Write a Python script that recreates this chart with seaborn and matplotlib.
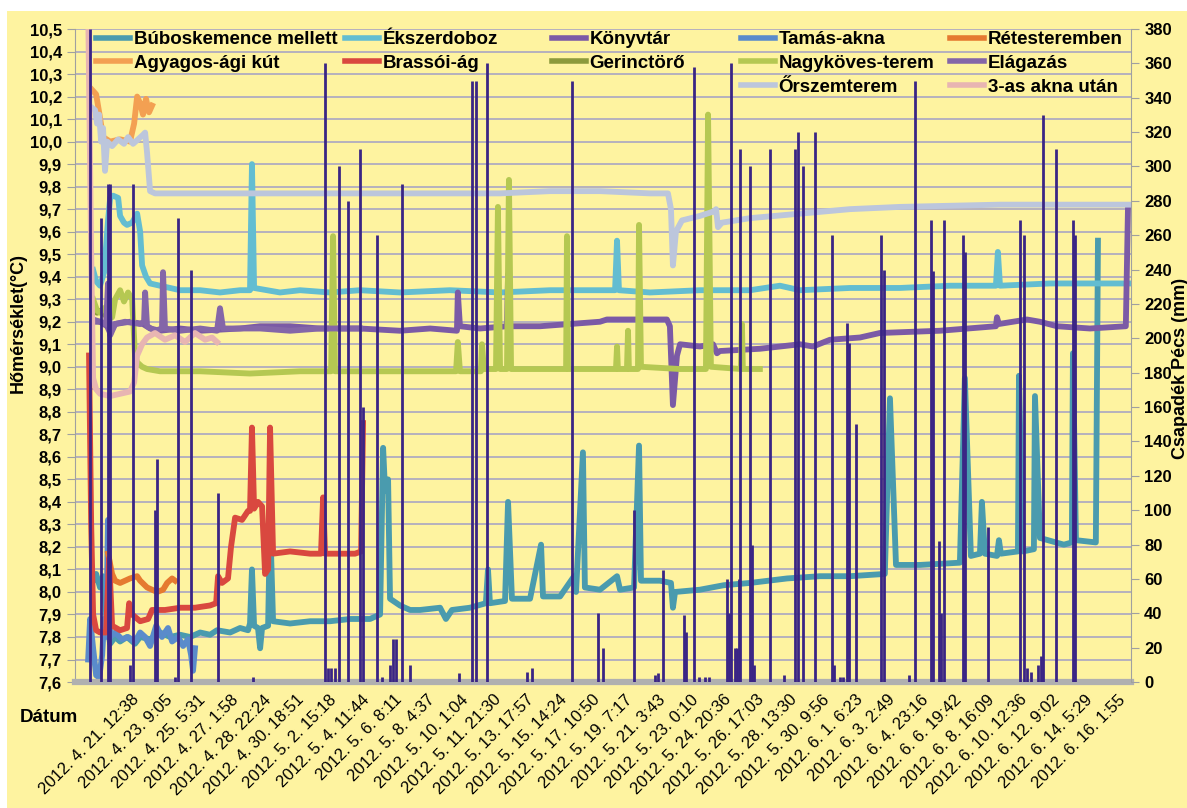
import numpy as np
import pandas as pd
import matplotlib
matplotlib.use("Agg")
import matplotlib.pyplot as plt
import seaborn as sns
from matplotlib.lines import Line2D
from matplotlib.patches import Rectangle
from matplotlib.ticker import MultipleLocator, FuncFormatter

# x values: days since 2012-04-18 00:00
ORIGIN = pd.Timestamp("2012-04-18 00:00")

datum_cimkek = [
    "2012. 4. 21. 12:38", "2012. 4. 23. 9:05", "2012. 4. 25. 5:31", "2012. 4. 27. 1:58",
    "2012. 4. 28. 22:24", "2012. 4. 30. 18:51", "2012. 5. 2. 15:18", "2012. 5. 4. 11:44",
    "2012. 5. 6. 8:11", "2012. 5. 8. 4:37", "2012. 5. 10. 1:04", "2012. 5. 11. 21:30",
    "2012. 5. 13. 17:57", "2012. 5. 15. 14:24", "2012. 5. 17. 10:50", "2012. 5. 19. 7:17",
    "2012. 5. 21. 3:43", "2012. 5. 23. 0:10", "2012. 5. 24. 20:36", "2012. 5. 26. 17:03",
    "2012. 5. 28. 13:30", "2012. 5. 30. 9:56", "2012. 6. 1. 6:23", "2012. 6. 3. 2:49",
    "2012. 6. 4. 23:16", "2012. 6. 6. 19:42", "2012. 6. 8. 16:09", "2012. 6. 10. 12:36",
    "2012. 6. 12. 9:02", "2012. 6. 14. 5:29", "2012. 6. 16. 1:55",
]

# --- temperature series (°C) ---
bubos_nap = [1.05, 1.22, 1.44, 1.61, 1.84, 2.01, 2.29, 2.57, 2.96, 3.41, 3.70, 4.26, 4.82, 5.39,
             5.95, 6.51, 7.08, 7.64, 8.03, 8.77, 9.33, 9.78, 9.89, 10.00, 10.12, 10.34, 10.46,
             10.57, 10.91, 11.02, 11.19, 12.15, 13.28, 14.40, 15.53, 16.65, 17.22, 17.39, 17.50,
             17.67, 17.78, 18.34, 18.91, 19.47, 20.60, 20.93, 21.27, 22.28, 23.18, 23.30, 23.41,
             24.26, 24.43, 24.65, 25.67, 26.29, 26.40, 27.36, 28.15, 28.26, 28.65, 28.76, 29.61,
             30.57, 30.74, 31.53, 31.81, 31.92, 32.99, 33.61, 33.72, 33.84, 35.24, 36.59, 38.06,
             40.15, 42.01, 43.69, 45.66, 45.95, 46.29, 47.64, 49.89, 50.17, 50.51, 51.02, 51.13,
             51.30, 51.98, 52.09, 52.20, 53.16, 53.22, 53.44, 54.06, 54.12, 54.40, 55.75, 56.20,
             56.26, 56.43, 57.55, 57.67]
bubos_t = [8.05, 8.08, 8.02, 8.07, 7.85, 7.77, 7.80, 7.78, 7.80, 7.77, 7.80, 7.79, 7.82, 7.80,
           7.81, 7.80, 7.82, 7.81, 7.83, 7.82, 7.84, 7.83, 7.86, 8.10, 7.85, 7.84, 7.75,
           7.84, 7.85, 8.32, 7.87, 7.86, 7.87, 7.87, 7.88, 7.88, 7.90, 8.64, 8.45,
           8.50, 7.97, 7.94, 7.92, 7.92, 7.93, 7.88, 7.92, 7.93, 7.95, 8.10, 7.95,
           7.96, 8.40, 7.97, 7.97, 8.21, 7.98, 7.98, 8.07, 8.00, 8.62, 8.02, 8.01,
           8.07, 8.01, 8.02, 8.65, 8.05, 8.05, 8.04, 7.93, 8.00, 8.01, 8.03, 8.04,
           8.06, 8.07, 8.07, 8.08, 8.86, 8.12, 8.12, 8.13, 8.95, 8.16, 8.17, 8.40,
           8.17, 8.16, 8.23, 8.17, 8.18, 8.96, 8.18, 8.19, 8.87, 8.24, 8.21, 8.22,
           9.06, 8.23, 8.22, 9.56]

ekszer_nap = [1.05, 1.22, 1.44, 1.67, 1.89, 2.01, 2.17, 2.46, 2.57, 2.79, 2.96, 3.25, 3.53, 3.70,
              3.81, 4.03, 4.26, 4.82, 5.95, 7.08, 8.20, 9.33, 9.89, 10.00, 10.12, 11.58, 12.71,
              14.40, 16.09, 18.34, 21.15, 23.98, 26.80, 29.61, 30.46, 30.57, 30.68, 32.43, 35.24,
              38.06, 39.75, 40.88, 43.69, 46.51, 49.33, 51.92, 52.03, 52.15, 54.96, 57.78, 59.47]
ekszer_t = [9.43, 9.38, 9.36, 9.42, 9.65, 9.75, 9.76, 9.75, 9.67, 9.64, 9.63, 9.64, 9.68, 9.60,
            9.45, 9.40, 9.37, 9.36, 9.34, 9.34, 9.33, 9.34, 9.34, 9.90, 9.35, 9.33, 9.34,
            9.33, 9.34, 9.33, 9.34, 9.33, 9.34, 9.34, 9.34, 9.56, 9.34, 9.33, 9.34,
            9.34, 9.36, 9.34, 9.35, 9.35, 9.36, 9.36, 9.51, 9.36, 9.37, 9.37, 9.37]

konyvtar_nap = [1.05, 1.44, 1.84, 2.01, 2.29, 3.13, 3.86, 4.26, 4.82, 5.95, 7.08, 9.33, 10.46, 12.15,
                13.84, 16.09, 18.34, 20.04, 21.55, 21.60, 21.72, 22.85, 24.37, 24.43, 24.48, 26.23,
                27.92, 29.61, 30.00, 31.86, 33.38, 33.55, 33.72, 33.95, 34.12, 35.24, 35.98, 36.20,
                36.37, 38.62, 40.88, 41.61, 42.57, 44.26, 45.38, 48.76, 51.92, 51.98, 52.09, 53.67,
                54.40, 55.36, 57.22, 59.24, 59.36]
konyvtar_t = [9.20, 9.20, 9.18, 9.15, 9.19, 9.20, 9.19, 9.17, 9.16, 9.17, 9.16, 9.17, 9.18, 9.18,
              9.17, 9.17, 9.16, 9.17, 9.16, 9.33, 9.18, 9.17, 9.18, 9.41, 9.18, 9.18,
              9.19, 9.20, 9.21, 9.21, 9.21, 9.18, 8.83, 9.05, 9.10, 9.09, 9.10, 9.06,
              9.07, 9.08, 9.10, 9.09, 9.12, 9.13, 9.15, 9.16, 9.18, 9.22, 9.19, 9.21,
              9.20, 9.18, 9.17, 9.18, 9.70]

tamas_nap = [0.77, 0.88, 1.05, 1.22, 1.39, 1.56, 1.67, 1.78, 1.89, 2.01, 2.29, 2.68, 3.02, 3.41,
             3.70, 3.98, 4.26, 4.60, 4.93, 5.27, 5.50, 5.84, 6.12, 6.40, 6.57, 6.68, 6.79]
tamas_t = [7.70, 7.88, 7.75, 7.63, 7.62, 7.72, 7.88, 7.80, 8.32, 7.80, 7.82, 7.79, 7.80, 7.78,
           7.82, 7.80, 7.76, 7.85, 7.80, 7.84, 7.78, 7.80, 7.76, 7.79, 7.72, 7.65, 7.75]

retes_nap = [1.89, 2.12, 2.29, 2.57, 3.13, 3.53, 3.70, 4.09, 4.37, 4.65, 4.99, 5.22, 5.50, 5.67]
retes_t = [8.17, 8.08, 8.05, 8.04, 8.06, 8.07, 8.05, 8.02, 8.01, 8.00, 8.01, 8.04, 8.06, 8.05]

agyagos_nap = [0.99, 1.22, 1.39, 1.61, 2.01, 2.57, 3.13, 3.36, 3.53, 3.70, 3.86, 4.03, 4.20, 4.37]
agyagos_t = [10.23, 10.21, 10.13, 10.02, 10.00, 10.01, 10.00, 10.08, 10.20, 10.17, 10.12, 10.19,
             10.13, 10.16]

brassoi_nap = [0.82, 0.94, 1.05, 1.22, 1.44, 1.78, 1.95, 2.12, 2.57, 2.96, 3.08, 3.25, 3.70, 4.15,
               4.37, 5.10, 5.95, 6.79, 7.64, 7.98, 8.09, 8.31, 8.65, 8.82, 9.05, 9.44, 9.78, 9.89,
               10.00, 10.12, 10.34, 10.57, 10.74, 10.91, 11.02, 11.19, 12.15, 13.28, 13.89, 14.01,
               14.12, 14.97, 15.81, 16.15, 16.26]
brassoi_t = [9.05, 8.30, 7.90, 7.83, 7.82, 7.82, 8.15, 7.85, 7.83, 7.84, 7.95, 7.90, 7.87, 7.88,
             7.92, 7.92, 7.93, 7.93, 7.94, 7.95, 8.07, 8.04, 8.06, 8.20, 8.33, 8.32, 8.36, 8.36,
             8.73, 8.37, 8.40, 8.38, 8.08, 8.10, 8.73, 8.17, 8.18, 8.17, 8.17, 8.42,
             8.17, 8.17, 8.17, 8.18, 8.75]

gerinc_nap = [1.05, 1.27, 1.50, 1.72, 2.01]
gerinc_t = [9.26, 9.24, 9.25, 9.23, 9.24]

nagykoves_nap = [1.05, 1.27, 1.44, 1.67, 1.89, 2.12, 2.29, 2.57, 2.79, 3.02, 3.25, 3.41, 3.53, 3.81,
                 4.09, 4.82, 7.08, 9.89, 12.71, 14.46, 14.57, 14.68, 16.65, 18.34, 21.50, 21.60,
                 21.72, 22.90, 22.96, 23.07, 23.75, 23.86, 23.98, 24.37, 24.48, 24.60, 26.23, 27.70,
                 27.75, 27.81, 30.51, 30.57, 30.62, 31.13, 31.19, 31.24, 31.75, 31.81, 31.92, 34.12,
                 35.58, 35.70, 35.86, 37.55, 37.61, 37.66, 38.62]
nagykoves_t = [9.30, 9.25, 9.24, 9.26, 9.27, 9.22, 9.30, 9.34, 9.29, 9.33, 9.30, 9.05, 9.02, 9.00,
               8.99, 8.98, 8.98, 8.97, 8.98, 8.98, 9.58, 8.98, 8.98, 8.98, 8.98, 9.11,
               8.98, 8.98, 9.10, 8.99, 8.99, 9.71, 8.99, 8.99, 9.83, 8.99, 8.99, 8.99,
               9.58, 8.99, 8.99, 9.09, 8.99, 8.99, 9.16, 8.99, 8.99, 9.63, 9.00, 8.99,
               8.99, 10.12, 9.00, 8.99, 9.19, 8.99, 8.99]

elagazas_nap = [1.05, 1.44, 1.78, 1.89, 2.01, 2.29, 2.85, 3.70, 3.92, 3.98, 4.09, 4.54, 4.93, 4.99,
                5.10, 5.95, 7.08, 8.03, 8.20, 8.37, 9.33, 10.46, 12.15, 13.84, 16.09]
elagazas_t = [9.21, 9.20, 9.19, 9.37, 9.14, 9.19, 9.20, 9.19, 9.20, 9.33, 9.18, 9.16, 9.17, 9.42,
              9.17, 9.16, 9.17, 9.16, 9.26, 9.17, 9.17, 9.17, 9.16, 9.17, 9.17]

orszem_nap = [0.99, 1.16, 1.27, 1.39, 1.50, 1.61, 1.72, 1.84, 2.12, 2.46, 2.79, 3.02, 3.30, 3.58,
              3.86, 3.98, 4.09, 4.26, 4.54, 7.08, 12.71, 18.34, 21.15, 23.98, 26.80, 29.61, 32.43,
              33.44, 33.61, 33.72, 33.89, 34.23, 35.24, 36.03, 36.15, 36.26, 36.48, 38.06, 40.88,
              43.69, 46.51, 52.15, 59.47]
orszem_t = [10.15, 10.14, 10.08, 10.12, 10.00, 10.06, 9.87, 10.00, 9.98, 10.01, 9.99, 10.02, 9.99,
            10.01, 10.03, 10.04, 9.95, 9.78, 9.77, 9.77, 9.77, 9.77, 9.77, 9.77, 9.78, 9.78, 9.77,
            9.77, 9.70, 9.45, 9.60, 9.65, 9.67, 9.69, 9.70, 9.62, 9.64, 9.66, 9.68,
            9.70, 9.71, 9.72, 9.72]

akna3_nap = [0.77, 0.94, 1.05, 1.22, 1.44, 2.01, 2.57, 3.13, 3.36, 3.53, 3.81, 4.09, 4.54, 5.10,
             5.67, 6.23, 6.79, 7.36, 7.75, 8.03]
akna3_t = [10.60, 9.50, 8.95, 8.90, 8.88, 8.87, 8.88, 8.89, 8.93, 9.05, 9.10, 9.13, 9.15, 9.12,
           9.14, 9.11, 9.15, 9.12, 9.13, 9.11]

# --- precipitation (mm) ---
csapadek_nap = [0.88, 1.50, 1.89, 2.01, 3.13, 3.30, 4.54, 4.65, 5.67, 5.84, 6.57, 8.09, 10.06,
                14.12, 14.29, 14.46, 14.68, 14.91, 15.41, 16.09, 16.26, 17.05, 17.33, 17.78, 17.95,
                18.12, 18.46, 18.91, 21.66, 22.40, 22.63, 23.25, 25.50, 25.78, 28.04, 29.50, 29.78,
                31.53, 32.71, 32.88, 33.16, 34.34, 34.45,
                34.90, 35.18, 35.52, 35.75, 36.76, 36.88, 36.99, 37.21, 37.33, 37.44, 37.50, 38.06,
                38.17, 38.28, 39.18, 39.97, 40.59, 40.76, 41.04, 41.72, 42.68, 42.79, 43.13, 43.30,
                43.53, 43.64, 44.03, 45.44, 45.61, 47.02, 47.36, 48.26, 48.37, 48.71, 48.82, 48.99,
                50.06, 50.17, 51.47, 53.27, 53.50, 53.67, 53.89, 54.28, 54.45, 54.56, 55.30, 56.26,
                56.37]
csapadek_mm = [380, 270, 290, 290, 10, 290, 100, 130, 3, 270, 240, 110, 3,
               360, 8, 8, 8, 300, 280, 310, 160, 260, 3, 10, 25,
               25, 290, 10, 5, 350, 350, 360, 6, 8, 350, 40, 20,
               100, 4, 5, 65, 39, 29,
               358, 3, 3, 3, 60, 40, 360, 20, 20, 60, 310, 300,
               80, 10, 310, 4, 310, 320, 300, 320, 260, 10, 3, 3,
               209, 197, 150, 260, 240, 4, 350, 269, 239, 82, 40, 269,
               260, 250, 90, 269, 260, 8, 6, 10, 15, 330, 310, 269,
               260]

nevek = ["Búboskemence mellett", "Ékszerdoboz", "Könyvtár", "Tamás-akna", "Rétesteremben",
         "Agyagos-ági kút", "Brassói-ág", "Gerinctörő", "Nagyköves-terem", "Elágazás",
         "Őrszemterem", "3-as akna után"]
szinek = ["#4A9BAE", "#63BDD1", "#7B5AA6", "#5A8BCB", "#E57A30", "#F3A052", "#D9483F",
          "#8C9A3C", "#B5C852", "#8466A8", "#BCC6DC", "#E8B5B2"]
sorok = [(bubos_nap, bubos_t), (ekszer_nap, ekszer_t), (konyvtar_nap, konyvtar_t),
         (tamas_nap, tamas_t), (retes_nap, retes_t), (agyagos_nap, agyagos_t),
         (brassoi_nap, brassoi_t), (gerinc_nap, gerinc_t), (nagykoves_nap, nagykoves_t),
         (elagazas_nap, elagazas_t), (orszem_nap, orszem_t), (akna3_nap, akna3_t)]

df = pd.concat([pd.DataFrame({"nap": n, "T": t, "hely": nev})
                for nev, (n, t) in zip(nevek, sorok)], ignore_index=True)

SARGA = "#FEF3A0"
plt.rcParams["font.family"] = ["Liberation Sans", "DejaVu Sans"]

fig = plt.figure(figsize=(11.87, 8.08), dpi=100)
fig.patch.set_facecolor("white")
fig.add_artist(Rectangle((0.006, 0), 0.994, 0.987, transform=fig.transFigure,
                         facecolor=SARGA, edgecolor="none", zorder=-10))

ax = fig.add_axes([0.0632, 0.1559, 0.8896, 0.8082])
ax.set_facecolor(SARGA)
ax.yaxis.grid(True, color="#A9A5C2", lw=1.2)
ax.set_axisbelow(True)

sns.lineplot(data=df, x="nap", y="T", hue="hely", hue_order=nevek, palette=szinek,
             estimator=None, sort=False, linewidth=4.2, legend=False, ax=ax)

ax.set_ylim(7.6, 10.5)
ax.set_xlim(0.03, 59.53)
ax.yaxis.set_major_locator(MultipleLocator(0.1))
ax.yaxis.set_major_formatter(FuncFormatter(lambda v, p: f"{v:.1f}".replace(".", ",")))

tick_nap = (pd.to_datetime(datum_cimkek, format="%Y. %m. %d. %H:%M") - ORIGIN) / pd.Timedelta("1D")
ax.set_xticks(tick_nap)
ax.set_xticklabels(datum_cimkek, rotation=45, ha="right", va="center",
                   rotation_mode="anchor", fontsize=12)
ax.tick_params(axis="x", length=0, pad=11)
ax.tick_params(axis="y", length=6, color="#A0A0A0", labelsize=12)
for lab in ax.get_yticklabels():
    lab.set_fontweight("bold")
ax.set_xlabel("")
ax.set_ylabel("Hőmérséklet(°C)", fontsize=13, fontweight="bold")
ax.yaxis.set_label_coords(-0.046, 0.55)

for s in ["top", "right"]:
    ax.spines[s].set_visible(False)
ax.spines["left"].set_color("#A0A0A0")
ax.spines["bottom"].set_color("#B0B0B0")
ax.spines["bottom"].set_linewidth(4.5)

ax2 = ax.twinx()
ax2.patch.set_visible(False)
ax2.vlines(csapadek_nap, 0, csapadek_mm, color="#3A2585", lw=2)
ax2.set_ylim(0, 380)
ax2.yaxis.set_major_locator(MultipleLocator(20))
ax2.tick_params(axis="y", length=6, color="#A0A0A0", labelsize=12)
for lab in ax2.get_yticklabels():
    lab.set_fontweight("bold")
for s in ["top", "left", "bottom"]:
    ax2.spines[s].set_visible(False)
ax2.spines["right"].set_color("#A0A0A0")
ax2.set_ylabel("Csapadék Pécs (mm)", fontsize=13, fontweight="bold")
ax2.yaxis.set_label_coords(1.039, 0.48)

fig.text(0.017, 0.112, "Dátum", fontsize=13.5, fontweight="bold", va="center")

# legend: five columns, filled like the original
oszlopok = [[0, 5], [1, 6], [2, 7], [3, 8, 10], [4, 9, 11]]
oszlop_x = [96, 345, 552, 741, 950]
for idx, px in zip(oszlopok, oszlop_x):
    h = [Line2D([], [], color=szinek[i], lw=4) for i in idx]
    fig.legend(h, [nevek[i] for i in idx], loc="upper left",
               bbox_to_anchor=(px / 1187, 1 - 31 / 808), bbox_transform=fig.transFigure,
               frameon=False, borderpad=0, borderaxespad=0, handlelength=1.8,
               handletextpad=0.2, labelspacing=0.36,
               prop={"weight": "bold", "size": 13.5})

fig.savefig("out.png", dpi=100, facecolor=fig.get_facecolor())
